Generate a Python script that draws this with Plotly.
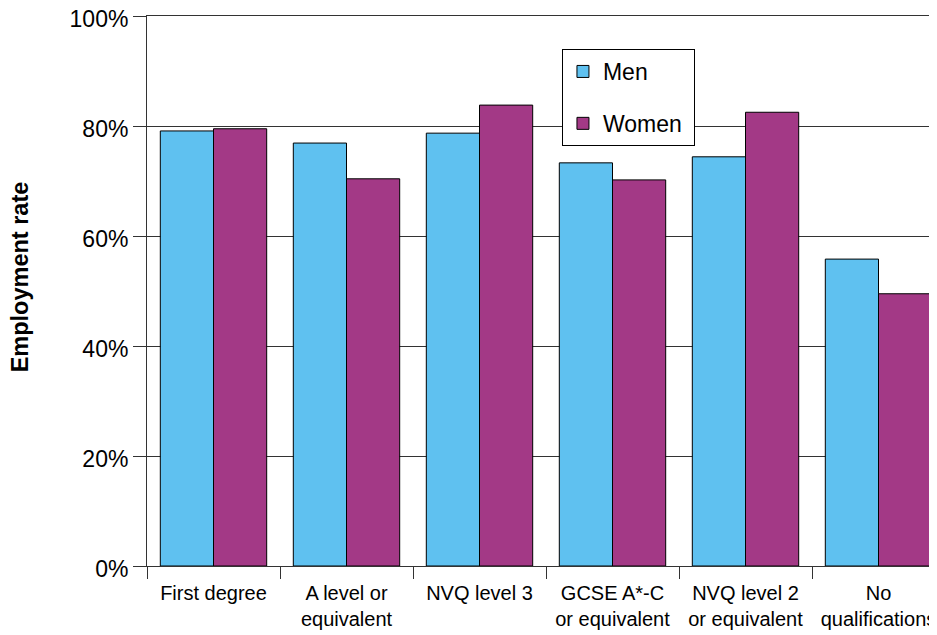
import plotly.graph_objects as go

categories = ["First degree", "A level or<br>equivalent", "NVQ level 3",
              "GCSE A*-C<br>or equivalent", "NVQ level 2<br>or equivalent", "No<br>qualifications"]
men = [79.1, 76.9, 78.7, 73.3, 74.4, 55.8]
women = [79.5, 70.4, 83.8, 70.2, 82.5, 49.5]
y_ticks = [0, 20, 40, 60, 80, 100]
y_tick_labels = ["0%", "20%", "40%", "60%", "80%", "100%"]

FONT = "Liberation Sans, Arial, sans-serif"

fig = go.Figure()
fig.add_trace(go.Bar(x=categories, y=men, name="Men", legendgroup="m",
                     marker=dict(color="#5FC1F0", line=dict(color="black", width=1))))
fig.add_trace(go.Bar(x=categories, y=women, name="Women\u00a0", legendgroup="w",
                     marker=dict(color="#A33986", line=dict(color="black", width=1))))

fig.update_layout(
    width=937, height=635,
    margin=dict(l=139, r=0, t=8, b=77, autoexpand=False),
    paper_bgcolor="white", plot_bgcolor="white",
    font=dict(family=FONT, color="black", size=20),
    barmode="group", bargap=0.2, bargroupgap=0,
    showlegend=True,
    legend=dict(x=0.52, y=0.94, xanchor="left", yanchor="top",
                bgcolor="white", bordercolor="black", borderwidth=1, itemwidth=30,
                font=dict(size=23), traceorder="grouped", tracegroupgap=19),
    xaxis=dict(range=[-0.5, 5.5], tickson="boundaries", ticks="outside", ticklen=12,
               tickcolor="#333", showline=True, linecolor="#333", linewidth=1, mirror=True,
               tickfont=dict(size=20), showgrid=False, automargin=False,
               ticklabelstandoff=9, ticklabeloverflow="allow"),
    yaxis=dict(range=[0, 100], tickmode="array", tickvals=y_ticks, ticktext=y_tick_labels,
               ticks="outside", ticklen=13,
               tickcolor="#333", showline=True, linecolor="#333", linewidth=1,
               showgrid=True, gridcolor="#333", gridwidth=1, zeroline=False,
               tickfont=dict(size=23), automargin=False, ticklabeloverflow="allow",
               ticklabelshift=3),
    annotations=[dict(text="<b>Employment rate</b>", xref="paper", yref="paper",
                      x=-0.159, y=0.525, xanchor="center", yanchor="middle",
                      textangle=-90, showarrow=False, font=dict(size=23.5))],
)

fig.write_html("out.html")
